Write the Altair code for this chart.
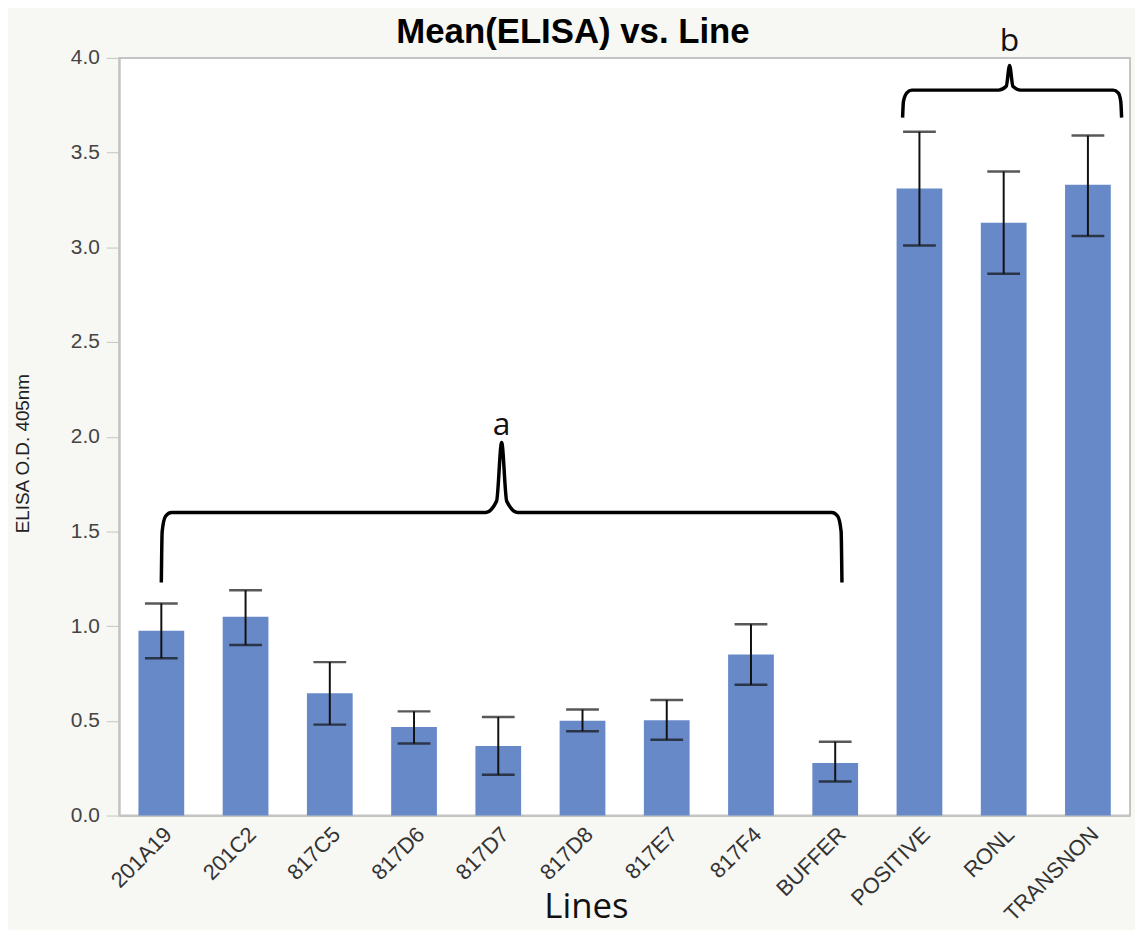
import altair as alt
import pandas as pd

lines = ["201A19", "201C2", "817C5", "817D6", "817D7", "817D8", "817E7",
         "817F4", "BUFFER", "POSITIVE", "RONL", "TRANSNON"]
means = [0.975, 1.05, 0.645, 0.467, 0.367, 0.50, 0.503, 0.85, 0.278, 3.31, 3.13, 3.33]
err_low = [0.83, 0.90, 0.48, 0.38, 0.215, 0.445, 0.40, 0.69, 0.18, 3.01, 2.86, 3.06]
err_high = [1.12, 1.19, 0.81, 0.55, 0.52, 0.56, 0.61, 1.01, 0.39, 3.61, 3.40, 3.59]

# annotation braces (x in band-index units 0..12, y in data units)
brace_a_x = [0.50, 0.51, 0.55, 0.62, 4.35, 4.48, 4.54, 4.60, 4.73, 8.46, 8.53, 8.57, 8.58]
brace_a_y = [1.23, 1.50, 1.58, 1.60, 1.60, 1.66, 1.97, 1.66, 1.60, 1.60, 1.58, 1.50, 1.23]
brace_b_x = [9.30, 9.31, 9.35, 9.41, 10.44, 10.53, 10.57, 10.61, 10.70, 11.80, 11.86, 11.89, 11.90]
brace_b_y = [3.685, 3.77, 3.815, 3.83, 3.83, 3.85, 3.96, 3.85, 3.83, 3.83, 3.815, 3.77, 3.685]
labels_txt = ["a", "b"]
labels_x = [4.54, 10.57]
labels_y = [2.06, 4.09]

df = pd.DataFrame({"Line": lines, "Mean": means, "Lo": err_low, "Hi": err_high})
braces = pd.DataFrame({
    "bx": brace_a_x + brace_b_x,
    "by": brace_a_y + brace_b_y,
    "grp": ["a"] * len(brace_a_x) + ["b"] * len(brace_b_x),
})
ann = pd.DataFrame({"t": labels_txt, "tx": labels_x, "ty": labels_y})

yscale = alt.Scale(domain=[0, 4], nice=False)
xband = alt.X("Line:N", sort=lines,
              scale=alt.Scale(paddingInner=0.457, paddingOuter=0.2285),
              axis=alt.Axis(title="Lines", labelAngle=-45, labelAlign="right",
                            labelBaseline="middle", labelFontSize=22,
                            labelFont="Liberation Sans", labelColor="#333333",
                            labelPadding=15, labelOffset=7, ticks=False,
                            domainColor="#c4c4c4", domainWidth=2,
                            titleFont="Open Sans", titleFontSize=35,
                            titleFontWeight="normal", titleColor="#111111",
                            titleX=470, titleY=103, titleAlign="center",
                            titleBaseline="alphabetic"))

yaxis = alt.Axis(title="ELISA O.D. 405nm", values=[0, 0.5, 1, 1.5, 2, 2.5, 3, 3.5, 4],
                 format=".1f", grid=False, labelFont="Liberation Sans",
                 labelFontSize=21, labelColor="#444444", tickSize=13,
                 tickColor="#c4c4c4", domainColor="#c4c4c4", domainWidth=2,
                 labelPadding=7, titleFont="Liberation Sans", titleFontSize=19,
                 titleFontWeight="normal", titleColor="#222222", titleAngle=-90,
                 titleX=-97, titleY=398, titleAlign="center", titleBaseline="middle")

bars = alt.Chart(df).mark_bar(color="#6789c8").encode(
    x=xband,
    y=alt.Y("Mean:Q", scale=yscale, axis=yaxis),
)
rules = alt.Chart(df).mark_rule(color="#111111", strokeWidth=2).encode(
    x=alt.X("Line:N", sort=lines), y="Lo:Q", y2="Hi:Q")
caps_lo = alt.Chart(df).mark_tick(color="#111111", thickness=2.5, size=33).encode(
    x=alt.X("Line:N", sort=lines), y="Lo:Q")
caps_hi = alt.Chart(df).mark_tick(color="#111111", thickness=2.5, size=33).encode(
    x=alt.X("Line:N", sort=lines), y="Hi:Q")

base_layer = alt.layer(bars, rules, caps_lo, caps_hi)

brace_lines = alt.Chart(braces).mark_line(
    color="#000000", strokeWidth=3.5, interpolate="monotone", clip=False
).encode(
    x=alt.X("bx:Q", scale=alt.Scale(domain=[0, 12], nice=False, zero=False), axis=None),
    y=alt.Y("by:Q", scale=yscale),
    detail="grp:N",
)
brace_text = alt.Chart(ann).mark_text(
    font="Open Sans", fontSize=32, color="#111111", baseline="middle"
).encode(
    x=alt.X("tx:Q", scale=alt.Scale(domain=[0, 12], nice=False, zero=False), axis=None),
    y=alt.Y("ty:Q", scale=yscale),
    text="t:N",
)
overlay = alt.layer(brace_lines, brace_text)

chart = alt.layer(base_layer, overlay).resolve_scale(x="independent").properties(
    width=1018, height=763,
    title=alt.TitleParams("Mean(ELISA) vs. Line", font="Liberation Sans", fontSize=35,
                          fontWeight="bold", color="#000000", anchor="middle",
                          dx=-52, dy=35, offset=10),
    autosize=alt.AutoSizeParams(type="none"),
    padding={"left": 112, "top": 47, "right": 5, "bottom": 112},
    background="#f7f7f3",
).configure_view(fill="#ffffff", stroke="#c4c4c4", strokeWidth=2)

chart.save("out.html", embed_options={"renderer": "svg", "actions": False})
